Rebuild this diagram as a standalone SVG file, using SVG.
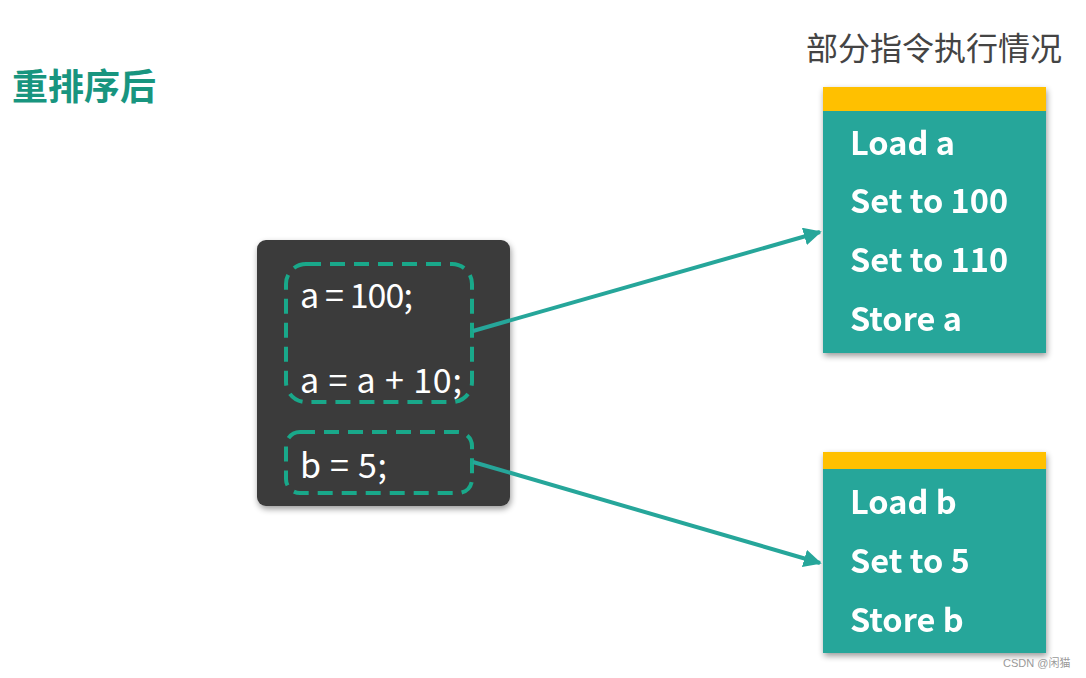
<svg xmlns="http://www.w3.org/2000/svg" width="1086" height="678" viewBox="0 0 1086 678">
  <defs>
    <style>
      .code { font-family: "Noto Sans CJK SC", "Lato", sans-serif; font-size: 34px; fill: #ffffff; }
      .step { font-family: "Noto Sans CJK SC", "Lato", sans-serif; font-weight: bold; font-size: 32.5px; fill: #ffffff; }
      .dash { fill: none; stroke: #19a88a; stroke-width: 4; stroke-dasharray: 15 9; }
      .link { fill: none; stroke: #26a69a; stroke-width: 4; }
      .body { fill: #26a69a; }
      .cap { fill: #ffc000; }
    </style>
    <filter id="shadow" x="-10%" y="-10%" width="125%" height="125%">
      <feGaussianBlur in="SourceAlpha" stdDeviation="3"/>
      <feOffset dx="1" dy="3" result="b"/>
      <feComponentTransfer><feFuncA type="linear" slope="0.4"/></feComponentTransfer>
      <feMerge><feMergeNode/><feMergeNode in="SourceGraphic"/></feMerge>
    </filter>
    <marker id="arrow" viewBox="0 0 10 10" refX="9" refY="5" markerWidth="4.5" markerHeight="4.5" orient="auto" markerUnits="strokeWidth">
      <path d="M0,0 L10,5 L0,10 Z" fill="#26a69a"/>
    </marker>
  </defs>

  <rect width="1086" height="678" fill="#ffffff"/>

  <!-- headings -->
  <g id="heading-left">
    <text x="12" y="100" font-family="'Noto Sans CJK SC', sans-serif" font-weight="bold" font-size="36" fill="#18957f">重排序后</text>
  </g>
  <g id="heading-right">
    <text x="806" y="60" font-family="'Noto Sans CJK SC', sans-serif" font-size="32" fill="#444444">部分指令执行情况</text>
  </g>

  <!-- source code block -->
  <g id="code-block">
    <rect x="257" y="240" width="253" height="266" rx="9" fill="#3a3a3a" filter="url(#shadow)"/>
    <rect class="dash" x="286" y="264" width="186" height="138" rx="20"/>
    <rect class="dash" x="286" y="432" width="186" height="61" rx="14"/>
    <text class="code" x="300" y="308" font-size="33" textLength="113" lengthAdjust="spacing">a = 100;</text>
    <text class="code" x="300" y="393" textLength="162" lengthAdjust="spacing">a = a + 10;</text>
    <text class="code" x="300" y="478" textLength="87" lengthAdjust="spacing">b = 5;</text>
  </g>

  <!-- instruction list for a -->
  <g id="steps-a" filter="url(#shadow)">
    <rect class="body" x="823" y="87" width="223" height="266"/>
    <rect class="cap" x="823" y="87" width="223" height="24"/>
    <text class="step" x="850" y="155">Load a</text>
    <text class="step" x="850" y="213">Set to 100</text>
    <text class="step" x="850" y="272">Set to 110</text>
    <text class="step" x="850" y="331">Store a</text>
  </g>

  <!-- instruction list for b -->
  <g id="steps-b" filter="url(#shadow)">
    <rect class="body" x="823" y="452" width="223" height="201"/>
    <rect class="cap" x="823" y="452" width="223" height="17"/>
    <text class="step" x="850" y="514">Load b</text>
    <text class="step" x="850" y="573">Set to 5</text>
    <text class="step" x="850" y="632">Store b</text>
  </g>

  <!-- connectors -->
  <g id="connectors">
    <line class="link" x1="473" y1="331" x2="820" y2="232" marker-end="url(#arrow)"/>
    <line class="link" x1="473" y1="462" x2="820" y2="563" marker-end="url(#arrow)"/>
  </g>

  <text x="1003" y="667" font-family="'Liberation Sans', 'Noto Sans CJK SC', sans-serif" font-size="11" fill="#999999">CSDN @闲猫</text>
</svg>
